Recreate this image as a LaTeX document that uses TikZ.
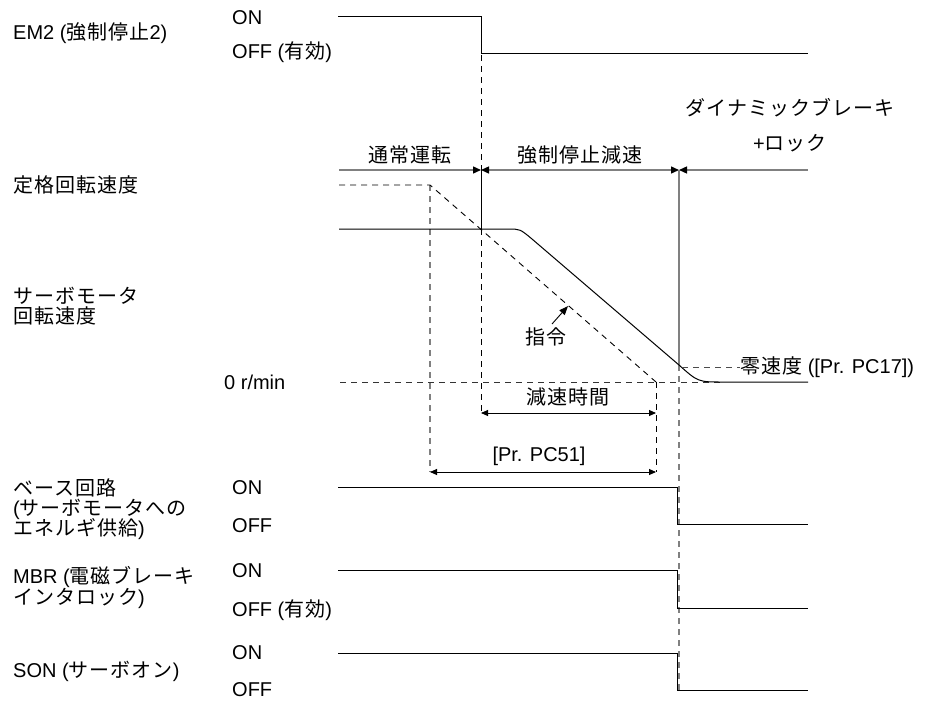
\documentclass[tikz,border=0pt]{standalone}
\usepackage{fontspec}
\setmainfont{Liberation Sans}
\newfontfamily\jpf{Noto Sans CJK JP}[LetterSpace=5]
\newcommand\J[1]{{\jpf #1}}
\usetikzlibrary{arrows.meta}
\tikzset{
  lbl/.style={anchor=west, inner sep=0pt},
  ctr/.style={inner sep=0pt},
  sig/.style={line width=1pt, black},
  gline/.style={line width=1.4pt, black!50},
  dsh/.style={dash pattern=on 6pt off 5pt, line width=0.9pt},
  tipR/.style={-{Triangle[length=8pt,width=7pt,color=black]}},
  tipL/.style={{Triangle[length=8pt,width=7pt,color=black]}-},
  tipLR/.style={{Triangle[length=8pt,width=7pt,color=black]}-{Triangle[length=8pt,width=7pt,color=black]}},
  dim/.style={line width=0.9pt, black, {Triangle[length=7pt,width=6pt]}-{Triangle[length=7pt,width=6pt]}}
}
\begin{document}
\begin{tikzpicture}[x=1pt,y=-1pt,font=\fontsize{20}{23}\selectfont]
\useasboundingbox (0,0) rectangle (933,701);

% ---------- left labels ----------
\node[lbl] (em2) at (13,33) {EM2 (\J{強制停止}2)};
\node[lbl] (em2on) at (232,18) {ON};
\node[lbl] (em2off) at (232,52) {OFF (\J{有効})};
\node[lbl] (rated) at (13,185) {\J{定格回転速度}};
\node[lbl] (motA) at (13,296) {\J{サーボモータ}};
\node[lbl] (motB) at (13,316) {\J{回転速度}};
\node[lbl] (zero) at (224,382) {0 r/min};
\node[lbl] (baseA) at (13,488) {\J{ベース回路}};
\node[lbl] (baseB) at (13,509) {(\J{サーボモータへの}};
\node[lbl] (baseC) at (13,529) {\J{エネルギ供給})};
\node[lbl] (baseon) at (232,488) {ON};
\node[lbl] (baseoff) at (232,526) {OFF};
\node[lbl] (mbrA) at (13,577) {MBR (\J{電磁ブレーキ}};
\node[lbl] (mbrB) at (13,598) {\J{インタロック})};
\node[lbl] (mbron) at (232,571) {ON};
\node[lbl] (mbroff) at (232,610) {OFF (\J{有効})};
\node[lbl] (son) at (13,671) {SON (\J{サーボオン})};
\node[lbl] (sonon) at (232,653) {ON};
\node[lbl] (sonoff) at (232,690) {OFF};

% ---------- top labels ----------
\node[ctr] (normal) at (410,155) {\J{通常運転}};
\node[ctr] (decel) at (580,155) {\J{強制停止減速}};
\node[ctr] (dbA) at (790,108) {\J{ダイナミックブレーキ}};
\node[ctr] (dbB) at (790,143) {+\J{ロック}};
\node[ctr] (cmd) at (546,337) {\J{指令}};
\node[lbl] (zs) at (740,367) {\J{零速度} ([Pr. PC17])};
\node[ctr] (dt) at (568,397) {\J{減速時間}};
\node[ctr] (pc51) at (539,456) {[Pr. PC51]};

% ---------- EM2 signal ----------
\draw[sig] (338,17) -- (481,17) -- (481,54) -- (808,54);

% ---------- phase line ----------
\draw[gline,tipR] (339,170) -- (481,170);
\draw[gline,tipLR] (481,170) -- (679,170);
\draw[gline,tipL] (679,170) -- (808,170);

% ---------- verticals ----------
\draw[dsh] (481,55) -- (481,170);
\draw[line width=1pt] (481,170) -- (481,229);
\draw[dsh] (481,229) -- (481,413);
\draw[gline] (679,170) -- (679,365);
\draw[dsh,black!50,line width=1.3pt] (679,365) -- (679,690);
\draw[dsh,black!50,line width=1.1pt] (430,185) -- (430,472);
\draw[dsh] (656,382) -- (656,472);

% ---------- speed ----------
\draw[dsh] (339,185) -- (430,185) -- (656,382);
\draw[dsh,black!80] (340,382) -- (723,382);
\draw[line width=1pt] (339,229) -- (508,229) .. controls (520,229) .. (532,239)
   -- (679,365) .. controls (698,382) .. (723,382) -- (808,382);
\draw[dsh,black!70] (682,367) -- (zs.west);
\draw[line width=0.9pt,-{Triangle[length=9pt,width=7pt]}] (552,324) -- (568,306);

% ---------- dimensions ----------
\draw[dim] (481,413) -- (656,413);
\draw[dim] (430,472) -- (656,472);

% ---------- bottom signals ----------
\draw[sig] (338,487) -- (677,487) -- (677,524) -- (808,524);
\draw[sig] (338,570) -- (677,570) -- (677,608) -- (808,608);
\draw[sig] (338,653) -- (677,653) -- (677,690) -- (808,690);
\end{tikzpicture}
\end{document}
